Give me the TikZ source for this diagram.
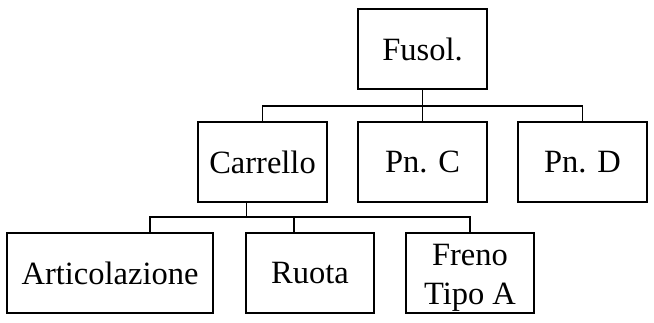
\documentclass[tikz,border=0pt]{standalone}
\usepackage{fontspec}
\setmainfont{Liberation Serif}
\begin{document}
\begin{tikzpicture}[x=1pt,y=-1pt,line width=1.2pt]

      \useasboundingbox (0,0) rectangle (654,322);

      \begin{scope}[every node/.style={draw, line width=1.2pt, inner sep=0pt,
          minimum width=129pt, minimum height=80pt, align=center,
          font=\fontsize{32.5}{39}\selectfont}]
        \node (fusol)    at (422.5,49)  {Fusol.};
        \node (carrello) at (262.5,162) {Carrello};
        \node (pnc)      at (422.5,162) {Pn. C};
        \node (pnd)      at (582.5,162) {Pn. D};
        \node[minimum width=206pt] (artic) at (110,273) {Articolazione};
        \node[minimum width=128pt] (ruota) at (310,273) {Ruota};
        \node[minimum width=128pt, text height=62pt, text depth=0pt] (freno)
          at (470,273) {Freno\\Tipo A};
      \end{scope}

      \coordinate (bar1) at (0,106);
      \coordinate (bar2) at (0,217);

      % first level
      \draw (fusol.south) -- (fusol.south |- bar1);
      \draw (carrello.north) |- (pnd.north |- bar1) -- (pnd.north);
      \draw (pnc.north) -- (pnc.north |- bar1);

      % second level
      \coordinate (c1) at ([xshift=-16pt]carrello.south);
      \coordinate (a1) at ([xshift=40pt]artic.north);
      \coordinate (r1) at ([xshift=-16pt]ruota.north);
      \draw (c1) -- (c1 |- bar2);
      \draw (a1) |- (freno.north |- bar2) -- (freno.north);
      \draw (r1) -- (r1 |- bar2);

    \end{tikzpicture}
\end{document}
